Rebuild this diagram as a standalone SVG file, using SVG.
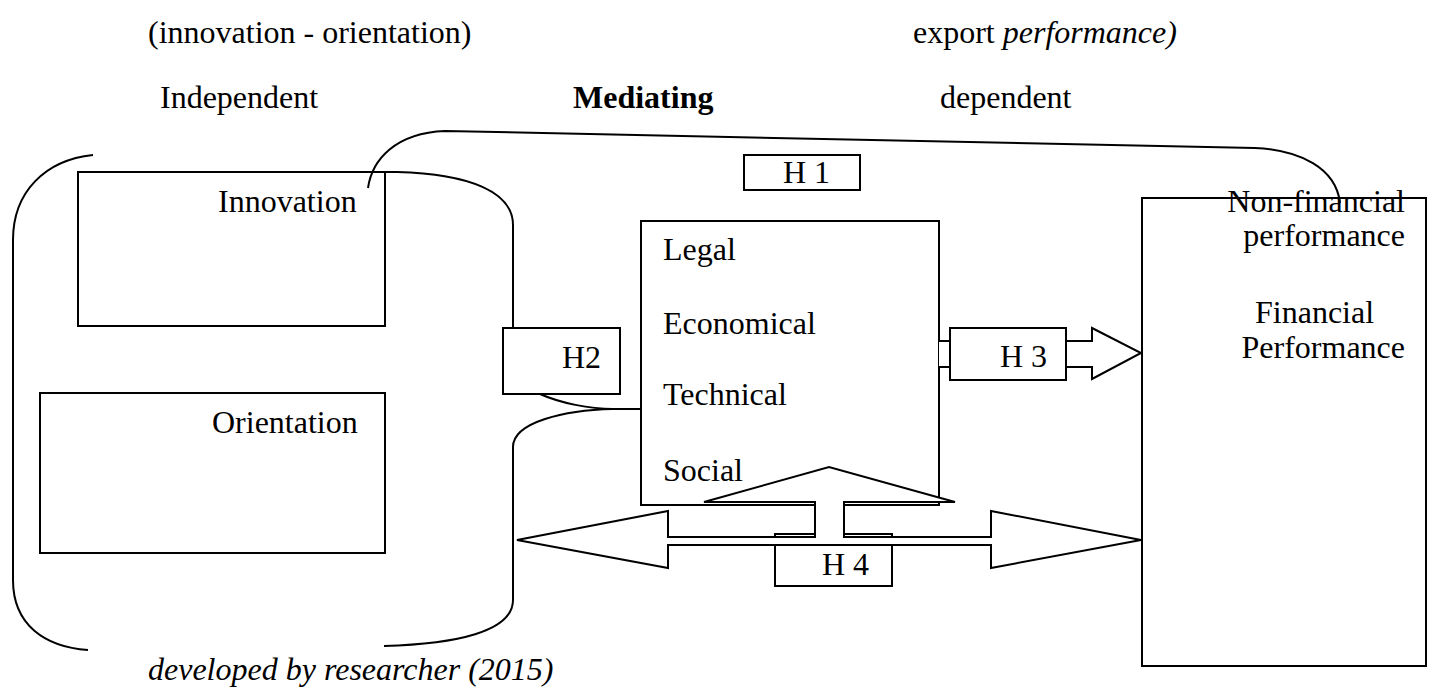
<svg xmlns="http://www.w3.org/2000/svg" width="1431" height="690" viewBox="0 0 1431 690">
<style>
.box{fill:#fff;stroke:#000;stroke-width:2}
.ln{fill:none;stroke:#000;stroke-width:2}
.ar{fill:#fff;stroke:#000;stroke-width:2;stroke-linejoin:miter}
text{font-family:'Liberation Serif','Times New Roman',serif;font-size:32px;fill:#000}
.b{font-weight:bold}
.i{font-style:italic}
</style>
<rect width="1431" height="690" fill="#fff"/>
<g id="headers">
<text x="148" y="43">(innovation - orientation)</text>
<text x="913" y="43">export <tspan class="i">performance)</tspan></text>
<text x="160" y="108">Independent</text>
<text x="573" y="108" class="b">Mediating</text>
<text x="940" y="108">dependent</text>
<text x="148" y="680" class="i">developed by researcher (2015)</text>
</g>
<g id="innovation">
<rect class="box" x="78" y="172" width="307" height="154"/>
<text x="218" y="212">Innovation</text>
</g>
<g id="orientation">
<rect class="box" x="40" y="393" width="345" height="160"/>
<text x="212" y="433">Orientation</text>
</g>
<g id="mediating">
<rect class="box" x="641" y="221" width="298" height="284"/>
<text x="663" y="260">Legal</text>
<text x="663" y="334">Economical</text>
<text x="663" y="405">Technical</text>
<text x="663" y="481">Social</text>
</g>
<g id="dependent">
<rect class="box" x="1142" y="198" width="284" height="468"/>
<text x="1405" y="212" text-anchor="end">Non-financial</text>
<text x="1405" y="246" text-anchor="end">performance</text>
<text x="1255" y="323">Financial</text>
<text x="1405" y="358" text-anchor="end">Performance</text>
</g>
<g id="connectors">
<path class="ln" d="M93 155 C45 160 13 192 13 240 L13 580 C13 625 45 647 88 650"/>
<path class="ln" d="M384 646 C455 644 513 632 513 600 L513 447 C513 422 565 410 613 409 L641 409"/>
<path class="ln" d="M540 394 C560 403 590 409 613 409"/>
<path class="ln" d="M385 172 L397 172 C470 174 513 192 513 225 L513 328"/>
<path class="ln" d="M368 188 C372 160 395 133 445 131 L1255 148 C1300 150 1336 168 1340 203"/>
<path class="ar" d="M939 341 L1092 341 L1092 328 L1141 353 L1092 379 L1092 367 L939 367"/>
<rect class="box" x="775" y="534" width="117" height="52"/>
<path class="ar" d="M517 540 L668 511 L668 537 L815 537 L815 502 L704 502 L829 467 L955 502 L844 502 L844 537 L991 537 L991 511 L1141 540 L991 568 L991 545 L668 545 L668 568 Z"/>
</g>
<g id="h1">
<rect class="box" x="744" y="155" width="116" height="35"/>
<text x="783" y="183">H 1</text>
</g>
<g id="h2">
<rect class="box" x="503" y="328" width="117" height="66"/>
<text x="562" y="368">H2</text>
</g>
<g id="h3">
<rect class="box" x="950" y="328" width="116" height="52"/>
<text x="1000" y="367">H 3</text>
</g>
<g id="h4">
<text x="822" y="575">H 4</text>
</g>
</svg>
